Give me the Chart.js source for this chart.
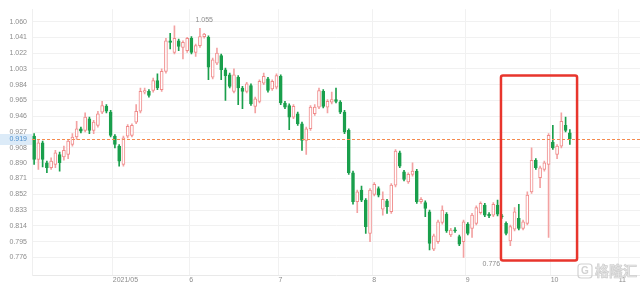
<!DOCTYPE html>
<html>
<head>
<meta charset="utf-8">
<script src="https://cdn.jsdelivr.net/npm/chart.js@4/dist/chart.umd.min.js"></script>
<style>
  body { margin: 0; background: #fff; }
  canvas { display: block; }
</style>
</head>
<body>
<canvas id="kline" width="640" height="286"></canvas>
<script>
Chart.defaults.font.family = '"Liberation Sans", Arial, sans-serif';
Chart.defaults.color = '#8c8c8c';

// daily candles, 2021/04 .. 2021/10
const openV = [0.922,0.894,0.914,0.890,0.884,0.888,0.900,0.897,0.900,0.912,0.921,0.931,0.929,0.943,0.929,0.935,0.951,0.958,0.951,0.922,
  0.910,0.888,0.922,0.923,0.939,0.952,0.975,0.976,0.977,0.989,0.978,1.000,1.037,1.023,1.037,1.029,1.025,1.040,1.023,1.031,
  1.042,1.041,0.993,1.010,1.019,1.002,0.996,0.976,0.993,0.980,0.976,0.983,0.958,0.964,0.986,0.991,0.979,0.981,0.994,0.962,
  0.959,0.945,0.949,0.937,0.917,0.931,0.949,0.957,0.976,0.957,0.963,0.966,0.963,0.951,0.929,0.878,0.843,0.857,0.845,0.805,
  0.852,0.859,0.834,0.844,0.831,0.863,0.902,0.879,0.867,0.876,0.880,0.843,0.842,0.831,0.786,0.795,0.818,0.828,0.803,0.809,
  0.801,0.795,0.816,0.811,0.817,0.830,0.839,0.828,0.827,0.839,0.826,0.817,0.796,0.810,0.823,0.811,0.817,0.855,0.893,0.872,
  0.882,0.888,0.915,0.900,0.910,0.935,0.926];
const highV = [0.925,0.918,0.916,0.892,0.896,0.905,0.903,0.910,0.918,0.925,0.940,0.933,0.950,0.945,0.941,0.952,0.964,0.960,0.953,0.924,
  0.912,0.922,0.936,0.937,0.960,0.980,0.980,0.978,0.992,0.997,1.003,1.040,1.046,1.055,1.039,1.037,1.041,1.042,1.033,1.052,
  1.046,1.043,1.016,1.028,1.021,1.004,0.998,1.003,0.995,0.982,0.987,0.985,0.969,0.990,0.998,0.993,0.990,0.997,0.996,0.964,
  0.961,0.960,0.951,0.939,0.933,0.959,0.960,0.980,0.978,0.966,0.975,0.980,0.965,0.953,0.931,0.880,0.857,0.862,0.847,0.859,
  0.866,0.861,0.855,0.846,0.865,0.906,0.904,0.881,0.878,0.890,0.882,0.848,0.844,0.833,0.804,0.821,0.838,0.830,0.811,0.812,
  0.803,0.821,0.818,0.829,0.838,0.843,0.841,0.830,0.842,0.845,0.828,0.819,0.815,0.836,0.840,0.821,0.855,0.908,0.895,0.886,
  0.892,0.925,0.935,0.912,0.950,0.945,0.930];
const lowV = [0.888,0.882,0.885,0.878,0.882,0.884,0.880,0.893,0.895,0.910,0.918,0.926,0.927,0.925,0.925,0.933,0.949,0.950,0.921,0.908,
  0.886,0.886,0.920,0.921,0.937,0.950,0.973,0.969,0.975,0.978,0.976,0.998,1.027,1.021,1.025,1.015,1.023,1.021,1.018,1.029,
  1.040,0.990,0.991,1.008,0.990,0.965,0.980,0.974,0.960,0.955,0.974,0.959,0.950,0.962,0.984,0.975,0.977,0.979,0.960,0.955,
  0.930,0.943,0.935,0.905,0.900,0.929,0.947,0.955,0.956,0.950,0.961,0.962,0.949,0.925,0.876,0.840,0.830,0.843,0.805,0.795,
  0.850,0.849,0.827,0.829,0.829,0.861,0.884,0.868,0.865,0.874,0.841,0.841,0.825,0.785,0.784,0.793,0.816,0.806,0.801,0.806,
  0.790,0.776,0.803,0.800,0.815,0.828,0.825,0.824,0.825,0.826,0.823,0.803,0.790,0.808,0.809,0.809,0.815,0.853,0.882,0.860,
  0.880,0.800,0.906,0.895,0.908,0.927,0.912];
const closeV = [0.894,0.914,0.894,0.884,0.892,0.902,0.890,0.905,0.916,0.921,0.931,0.928,0.945,0.929,0.939,0.949,0.959,0.952,0.923,0.912,
  0.892,0.920,0.934,0.935,0.952,0.976,0.977,0.971,0.989,0.980,1.000,1.037,1.035,1.040,1.030,1.035,1.040,1.023,1.031,1.042,
  1.045,1.005,1.014,1.022,1.002,0.995,0.982,0.996,0.980,0.976,0.985,0.961,0.967,0.988,0.994,0.977,0.988,0.995,0.962,0.957,
  0.945,0.958,0.937,0.917,0.931,0.957,0.957,0.977,0.958,0.964,0.966,0.964,0.951,0.927,0.878,0.843,0.855,0.845,0.813,0.857,
  0.864,0.851,0.846,0.837,0.863,0.904,0.886,0.870,0.876,0.880,0.843,0.846,0.835,0.793,0.802,0.819,0.833,0.808,0.809,0.808,
  0.792,0.819,0.805,0.827,0.836,0.841,0.827,0.826,0.840,0.828,0.825,0.805,0.813,0.831,0.811,0.819,0.851,0.893,0.884,0.884,
  0.890,0.923,0.908,0.910,0.940,0.929,0.919];

const slotCount = 143;                 // trading-day slots shown on the axis (to early Nov)
const monthStart = [19, 37, 58, 80, 102, 122, 138];
const monthLabels = ['2021/05', '6', '7', '8', '9', '10', '11'];
const yTicks = [0.776, 0.795, 0.814, 0.833, 0.852, 0.871, 0.890, 0.908, 0.927, 0.946, 0.965, 0.984, 1.003, 1.022, 1.041, 1.060];
const lastPrice = 0.919;
const hiIdx = 33, loIdx = 101;

const UP = '#f08a8a', UP_WICK = '#f3a2a2', DOWN = '#1a9f4c';
const isUp = closeV.map((c, i) => c >= openV[i]);
const slots = Array.from({ length: slotCount }, (_, i) => String(i));

const overlay = {
  id: 'overlay',
  afterDatasetsDraw(chart) {
    const { ctx, chartArea, scales: { x, y } } = chart;
    ctx.save();
    // last price line + tag
    const py = Math.round(y.getPixelForValue(lastPrice)) + 0.5;
    ctx.strokeStyle = '#f58a4e';
    ctx.lineWidth = 1;
    ctx.setLineDash([3, 2]);
    ctx.beginPath();
    ctx.moveTo(chartArea.left, py);
    ctx.lineTo(chartArea.right, py);
    ctx.stroke();
    ctx.setLineDash([]);
    ctx.fillStyle = '#dcebf8';
    ctx.fillRect(0, py - 5.5, chartArea.left, 11);
    ctx.fillStyle = '#4d8fcc';
    ctx.font = '7px "Liberation Sans", Arial';
    ctx.textAlign = 'right';
    ctx.textBaseline = 'middle';
    ctx.fillText(lastPrice.toFixed(3), chartArea.left - 5, py);

    // high / low marks
    ctx.fillStyle = '#8c8c8c';
    ctx.textAlign = 'left';
    ctx.fillText(highV[hiIdx].toFixed(3), x.getPixelForValue(hiIdx) + 21, y.getPixelForValue(highV[hiIdx]) - 6);
    ctx.fillText(lowV[loIdx].toFixed(3), x.getPixelForValue(loIdx) + 19, y.getPixelForValue(lowV[loIdx]) + 7);

    // red highlight box
    const bx0 = x.getPixelForValue(109.8), bx1 = x.getPixelForValue(127.7);
    const by0 = y.getPixelForValue(0.995), by1 = y.getPixelForValue(0.7724);
    ctx.strokeStyle = '#e8352c';
    ctx.lineWidth = 2.5;
    ctx.beginPath();
    ctx.roundRect(bx0, by0, bx1 - bx0, by1 - by0, 2);
    ctx.stroke();

    // watermark
    ctx.strokeStyle = '#d2d2d2';
    ctx.lineWidth = 1.2;
    ctx.beginPath();
    ctx.roundRect(578, 264, 14, 14, 3);
    ctx.stroke();
    ctx.fillStyle = '#d2d2d2';
    ctx.font = 'bold 10px "Liberation Sans", Arial';
    ctx.textAlign = 'center';
    ctx.fillText('G', 585, 271.5);
    ctx.font = 'bold 14px "Noto Sans CJK SC"';
    ctx.textAlign = 'left';
    ctx.fillStyle = '#e6e6e6';
    ctx.strokeStyle = '#cfcfcf';
    ctx.lineWidth = 0.7;
    ctx.fillText('格隆汇', 595, 271);
    ctx.strokeText('格隆汇', 595, 271);
    ctx.restore();
  }
};

new Chart(document.getElementById('kline').getContext('2d'), {
  type: 'bar',
  data: {
    labels: slots,
    datasets: [
      {
        label: 'body',
        data: openV.map((o, i) => [o, closeV[i]]),
        backgroundColor: isUp.map(u => u ? '#ffffff' : DOWN),
        borderColor: isUp.map(u => u ? UP : DOWN),
        borderWidth: 1,
        borderSkipped: false,
        barThickness: 3,
        minBarLength: 1,
        grouped: false,
        order: 0
      },
      {
        label: 'wick',
        data: lowV.map((l, i) => [l, highV[i]]),
        backgroundColor: isUp.map(u => u ? UP_WICK : DOWN),
        borderWidth: 0,
        barThickness: 1,
        grouped: false,
        order: 1
      }
    ]
  },
  options: {
    responsive: false,
    animation: false,
    layout: { padding: { top: 3, right: 0, bottom: 0, left: 0 } },
    plugins: { legend: { display: false }, tooltip: { enabled: false } },
    scales: {
      x: {
        type: 'category',
        offset: true,
        afterBuildTicks: scale => { scale.ticks = monthStart.map(v => ({ value: v - 0.5 })); },
        afterFit: scale => { scale.height = 11; },
        grid: { offset: false, color: '#f1f1f1', drawTicks: false },
        border: { display: true, color: '#e9e9e9' },
        ticks: {
          autoSkip: false,
          maxRotation: 0,
          align: 'start',
          padding: 1,
          font: { size: 7 },
          color: '#8c8c8c',
          callback: (v, i) => monthLabels[i]
        }
      },
      y: {
        min: 0.75482,
        max: 1.07495,
        afterBuildTicks: scale => { scale.ticks = yTicks.map(v => ({ value: v })); },
        afterFit: scale => { scale.width = 32; },
        grid: { color: '#f1f1f1', drawTicks: false },
        border: { display: true, color: '#efefef' },
        ticks: {
          padding: 5,
          font: { size: 7 },
          color: '#8c8c8c',
          callback: v => v.toFixed(3)
        }
      }
    }
  },
  plugins: [overlay]
});
</script>
</body>
</html>
